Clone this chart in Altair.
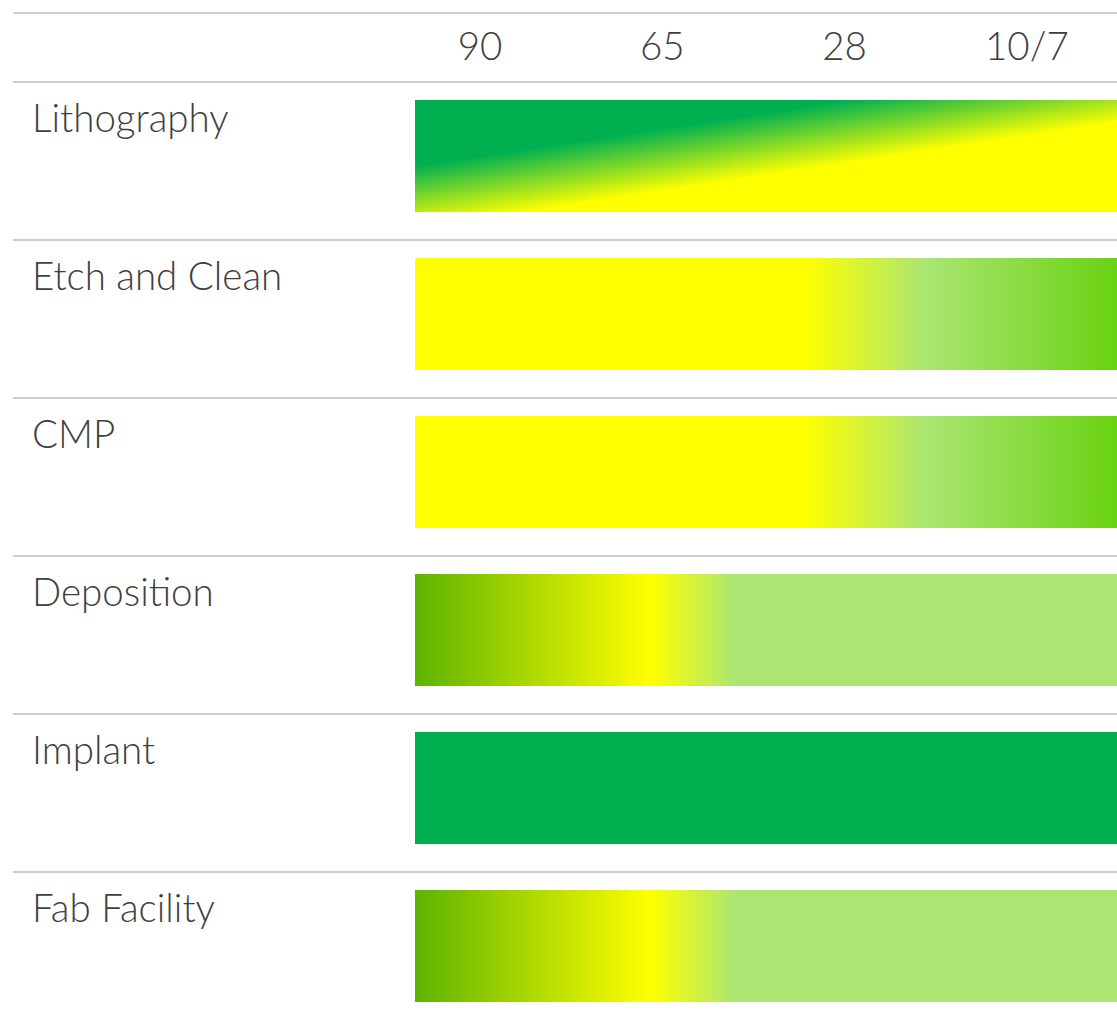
import altair as alt
import pandas as pd

# ---- data ----
nodes = ["90", "65", "28", "10/7"]
categories = ["Lithography", "Etch and Clean", "CMP", "Deposition", "Implant", "Fab Facility"]

# ---- styles ----
GREEN = "#00B050"
YELLOW = "#FFFF00"
LIGHT = "#ABE673"
BRIGHT = "#69D212"
DARK = "#5DB300"
TEXT = "#3F3F3F"
LINE = "#BFBFBF"
FONT = "Lato"
FS = 38.5

def stops(pairs):
    return [alt.GradientStop(offset=o, color=c) for o, c in pairs]

grad_h = lambda pairs: alt.Gradient(gradient="linear", stops=stops(pairs), x1=0, x2=1, y1=0, y2=0)

gradients = {
    "Lithography": alt.Gradient(gradient="linear",
                                stops=stops([(0, GREEN), (0.31, GREEN), (0.604, YELLOW), (1, YELLOW)]),
                                x1=0, y1=0, x2=0.95, y2=1),
    "Etch and Clean": grad_h([(0, YELLOW), (0.556, YELLOW), (0.726, LIGHT), (1, BRIGHT)]),
    "CMP": grad_h([(0, YELLOW), (0.556, YELLOW), (0.726, LIGHT), (1, BRIGHT)]),
    "Deposition": grad_h([(0, DARK), (0.335, YELLOW), (0.456, LIGHT), (1, LIGHT)]),
    "Implant": grad_h([(0, GREEN), (1, GREEN)]),
    "Fab Facility": grad_h([(0, DARK), (0.335, YELLOW), (0.456, LIGHT), (1, LIGHT)]),
}

# layout in column / row units
W, H = 1117, 1026
COL = 182.3          # pixels per column
ROW = 158.0          # pixels per row
x0_px, y0_px = 480, 82
x_dom = [-x0_px / COL, (W - x0_px) / COL]
y_dom = [-y0_px / ROW, (H - y0_px) / ROW]
xs = alt.Scale(domain=x_dom, nice=False, zero=False)
ys = alt.Scale(domain=y_dom, nice=False, zero=False, reverse=True)

BAR_L, BAR_R = -65 / COL, x_dom[1]
LINE_L = -467 / COL
LABEL_X = -448 / COL

rows = pd.DataFrame({
    "cat": categories,
    "row": list(range(len(categories))),
})
rows["top"] = rows["row"] + 18 / ROW
rows["bot"] = rows["row"] + 130 / ROW
rows["ly"] = rows["row"] + 38 / ROW
rows["x1"] = BAR_L
rows["x2"] = BAR_R
rows["lx"] = LABEL_X

lines = pd.DataFrame({"y": [-69 / ROW] + list(range(len(categories)))})
lines["x1"] = LINE_L
lines["x2"] = BAR_R

hdr = pd.DataFrame({"node": nodes, "col": list(range(len(nodes)))})
hdr["y"] = -34 / ROW

X = lambda f: alt.X(f, type="quantitative", scale=xs, axis=None)
Y = lambda f: alt.Y(f, type="quantitative", scale=ys, axis=None)

layers = []
rule = alt.Chart(lines).mark_rule(color=LINE, strokeWidth=1.5).encode(
    x=X("x1"), x2="x2", y=Y("y"))
layers.append(rule)

for c in categories:
    bar = alt.Chart(rows).transform_filter(alt.datum.cat == c).mark_rect(
        fill=gradients[c], stroke=None
    ).encode(x=X("x1"), x2="x2", y=Y("top"), y2="bot")
    layers.append(bar)

labels = alt.Chart(rows).mark_text(
    align="left", baseline="middle", font=FONT, fontSize=FS, fontWeight=300, color=TEXT
).encode(x=X("lx"), y=Y("ly"), text="cat:N")
layers.append(labels)

header = alt.Chart(hdr).mark_text(
    align="center", baseline="middle", font=FONT, fontSize=FS, fontWeight=300, color=TEXT
).encode(x=X("col"), y=Y("y"), text="node:N")
layers.append(header)

chart = alt.layer(*layers).properties(
    width=W, height=H, autosize=alt.AutoSizeParams(type="none"), padding=0
).configure_view(stroke=None)

chart.save("out.html", embed_options={"renderer": "svg", "actions": False})
